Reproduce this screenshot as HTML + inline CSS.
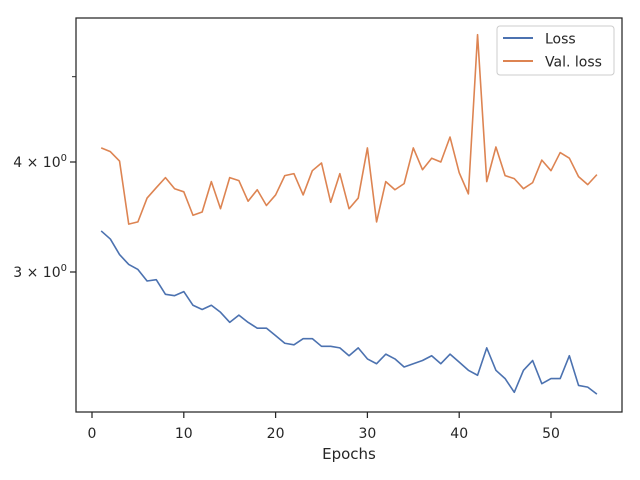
<!DOCTYPE html>
<html><head><meta charset="utf-8"><style>
html,body{margin:0;padding:0;background:#fff;}
svg{display:block;font-family:"DejaVu Sans","Liberation Sans",sans-serif;}
</style></head><body>
<svg id="chart" width="640" height="480" viewBox="0 0 640 480">
<rect x="0" y="0" width="640" height="480" fill="#fff"/>
<g id="plot"></g>
<rect x="76" y="18" width="546" height="394" fill="none" stroke="#262626" stroke-width="1.25"/>
<g id="xticks"></g>
<g id="yticks"></g>
<text x="349" y="459" font-size="15" fill="#262626" text-anchor="middle">Epochs</text>
<g>
<rect x="497" y="26" width="117" height="49" rx="3" fill="#fff" fill-opacity="0.8" stroke="#ccc"/>
<g>
<line x1="503" y1="38" x2="533" y2="38" stroke="#4c72b0" stroke-width="2"/>
<text x="545" y="43.5" font-size="14" fill="#262626">Loss</text>
</g>
<g>
<line x1="503" y1="61" x2="533" y2="61" stroke="#dd8452" stroke-width="2"/>
<text x="545" y="66.5" font-size="14" fill="#262626">Val. loss</text>
</g>
</g>
</svg>
<script>
const lossValues = [3.34,3.27,3.14,3.06,3.02,2.93,2.94,2.83,2.82,2.85,2.75,2.72,2.75,2.70,2.63,2.68,2.63,2.59,2.59,2.54,2.49,2.48,2.52,2.52,2.47,2.47,2.46,2.41,2.46,2.39,2.36,2.42,2.39,2.34,2.36,2.38,2.41,2.36,2.42,2.37,2.32,2.29,2.46,2.32,2.27,2.19,2.32,2.38,2.24,2.27,2.27,2.41,2.23,2.22,2.18];
const valLossValues = [4.15,4.11,4.01,3.40,3.42,3.64,3.74,3.84,3.73,3.70,3.48,3.51,3.80,3.54,3.84,3.81,3.61,3.72,3.57,3.67,3.86,3.88,3.67,3.91,3.99,3.60,3.88,3.54,3.64,4.15,3.42,3.80,3.72,3.78,4.15,3.92,4.04,4.00,4.27,3.89,3.68,5.58,3.80,4.16,3.86,3.83,3.73,3.79,4.02,3.91,4.10,4.04,3.85,3.77,3.87];
const xTickValues = [0,10,20,30,40,50];
const yTickValues = [3,4];
const yMinorTicks = [5];

const NS = "http://www.w3.org/2000/svg";
const X0 = 92, XS = 9.18;
const Y4 = 162, YPD = 880.4;
function xScale(e){ return X0 + XS * e; }
function yScale(v){ return Y4 - (Math.log10(v) - Math.log10(4)) * YPD; }
function mk(tag, attrs, parent){ const el = document.createElementNS(NS, tag); for (const k in attrs) el.setAttribute(k, attrs[k]); parent.appendChild(el); return el; }

const plot = document.getElementById('plot');
function drawSeries(vals, color, name){
  const pts = vals.map((v,i)=> xScale(i+1).toFixed(2)+','+yScale(v).toFixed(2)).join(' ');
  const pl = mk('polyline', {points: pts, fill:'none', stroke: color, 'stroke-width': 1.6, 'stroke-linejoin':'round'}, plot);
  
  
}
drawSeries(lossValues, '#4c72b0', 'loss-line');
drawSeries(valLossValues, '#dd8452', 'val-loss-line');

const xt = document.getElementById('xticks');
xTickValues.forEach(v => {
  const x = xScale(v);
  const l = mk('line', {x1:x, y1:412, x2:x, y2:418, stroke:'#262626', 'stroke-width':1.25}, xt);
  
  
  const t = mk('text', {x:x, y:438, 'font-size':14, fill:'#262626', 'text-anchor':'middle'}, xt);
  t.textContent = String(v);
  
  
});
const yt = document.getElementById('yticks');
yTickValues.forEach(v => {
  const y = yScale(v);
  const l = mk('line', {x1:70, y1:y, x2:76, y2:y, stroke:'#262626', 'stroke-width':1.25}, yt);
  
  
  const t = mk('text', {x:67, y:y+5, 'font-size':14, fill:'#262626', 'text-anchor':'end'}, yt);
  t.textContent = v + ' \u00d7 10';
  const s = mk('tspan', {dy:-6, 'font-size':10}, t);
  s.textContent = '0';
  
  
});
yMinorTicks.forEach(v => {
  const y = yScale(v);
  const l = mk('line', {x1:72, y1:y, x2:76, y2:y, stroke:'#262626', 'stroke-width':1}, yt);
  
  
});
</script>
</body></html>
